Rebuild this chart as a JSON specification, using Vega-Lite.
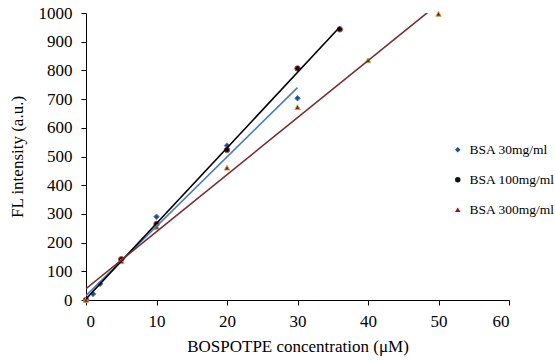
{
  "$schema": "https://vega.github.io/schema/vega-lite/v6.json",
  "autosize": "none",
  "width": 423,
  "height": 287,
  "padding": {"left": 86, "top": 13, "right": 46, "bottom": 60},
  "background": "white",
  "config": {
    "view": {"stroke": null},
    "font": "Liberation Serif",
    "axis": {
      "grid": false,
      "domainColor": "#000000",
      "tickColor": "#000000",
      "labelColor": "#000000",
      "titleColor": "#000000",
      "labelFont": "Liberation Serif",
      "titleFont": "Liberation Serif",
      "labelFontSize": 17,
      "titleFontSize": 17,
      "titleFontWeight": "normal",
      "tickSize": 5,
      "domainWidth": 1,
      "tickWidth": 1
    }
  },
  "data": {
    "values": [
      {"series": "BSA 30mg/ml", "x": 0, "y": 0},
      {"series": "BSA 30mg/ml", "x": 1, "y": 21},
      {"series": "BSA 30mg/ml", "x": 2, "y": 56},
      {"series": "BSA 30mg/ml", "x": 5, "y": 140},
      {"series": "BSA 30mg/ml", "x": 10, "y": 290},
      {"series": "BSA 30mg/ml", "x": 20, "y": 538},
      {"series": "BSA 30mg/ml", "x": 30, "y": 703},
      {"series": "BSA 100mg/ml", "x": 0, "y": 0},
      {"series": "BSA 100mg/ml", "x": 5, "y": 142},
      {"series": "BSA 100mg/ml", "x": 10, "y": 265},
      {"series": "BSA 100mg/ml", "x": 20, "y": 523},
      {"series": "BSA 100mg/ml", "x": 30, "y": 807},
      {"series": "BSA 100mg/ml", "x": 36, "y": 943},
      {"series": "BSA 300mg/ml", "x": 0, "y": 0},
      {"series": "BSA 300mg/ml", "x": 5, "y": 135},
      {"series": "BSA 300mg/ml", "x": 10, "y": 255},
      {"series": "BSA 300mg/ml", "x": 20, "y": 461},
      {"series": "BSA 300mg/ml", "x": 30, "y": 672},
      {"series": "BSA 300mg/ml", "x": 40, "y": 835},
      {"series": "BSA 300mg/ml", "x": 50, "y": 997}
    ]
  },
  "encoding": {
    "x": {
      "field": "x", "type": "quantitative",
      "scale": {"domain": [0, 60], "nice": false},
      "axis": {"values": [0, 10, 20, 30, 40, 50, 60], "title": "BOSPOTPE concentration (μM)", "labelPadding": 8, "titlePadding": 9}
    },
    "y": {
      "field": "y", "type": "quantitative",
      "scale": {"domain": [0, 1000], "nice": false},
      "axis": {"values": [0, 100, 200, 300, 400, 500, 600, 700, 800, 900, 1000], "format": "d", "title": "FL intensity (a.u.)", "labelPadding": 9, "titlePadding": 12}
    }
  },
  "layer": [
    {
      "mark": {"type": "point", "filled": true, "size": 30, "strokeWidth": 1, "opacity": 1},
      "encoding": {
        "shape": {
          "field": "series", "type": "nominal",
          "scale": {"domain": ["BSA 30mg/ml", "BSA 100mg/ml", "BSA 300mg/ml"], "range": ["diamond", "circle", "triangle-up"]},
          "legend": {
            "title": null, "orient": "none", "legendX": 365, "legendY": 130,
            "labelFont": "Liberation Serif", "labelFontSize": 13.5, "labelColor": "#000000",
            "rowPadding": 15, "labelOffset": 5, "padding": 0, "symbolSize": 30
          }
        },
        "fill": {
          "field": "series", "type": "nominal",
          "scale": {"domain": ["BSA 30mg/ml", "BSA 100mg/ml", "BSA 300mg/ml"], "range": ["#1F4E9A", "#1A0A0A", "#C00000"]},
          "legend": {
            "title": null, "orient": "none", "legendX": 365, "legendY": 130,
            "labelFont": "Liberation Serif", "labelFontSize": 13.5, "labelColor": "#000000",
            "rowPadding": 15, "labelOffset": 5, "padding": 0, "symbolSize": 30
          }
        },
        "stroke": {
          "field": "series", "type": "nominal",
          "scale": {"domain": ["BSA 30mg/ml", "BSA 100mg/ml", "BSA 300mg/ml"], "range": ["#4F81BD", "#C0504D", "#9BBB59"]},
          "legend": null
        }
      }
    },
    {
      "transform": [{"regression": "y", "on": "x", "groupby": ["series"]}],
      "mark": {"type": "line", "strokeWidth": 1.6, "clip": true},
      "encoding": {
        "stroke": {
          "field": "series", "type": "nominal",
          "scale": {"domain": ["BSA 30mg/ml", "BSA 100mg/ml", "BSA 300mg/ml"], "range": ["#4A7EBB", "#000000", "#7B2E2E"]},
          "legend": null
        }
      }
    }
  ],
  "resolve": {"scale": {"stroke": "independent"}}
}
